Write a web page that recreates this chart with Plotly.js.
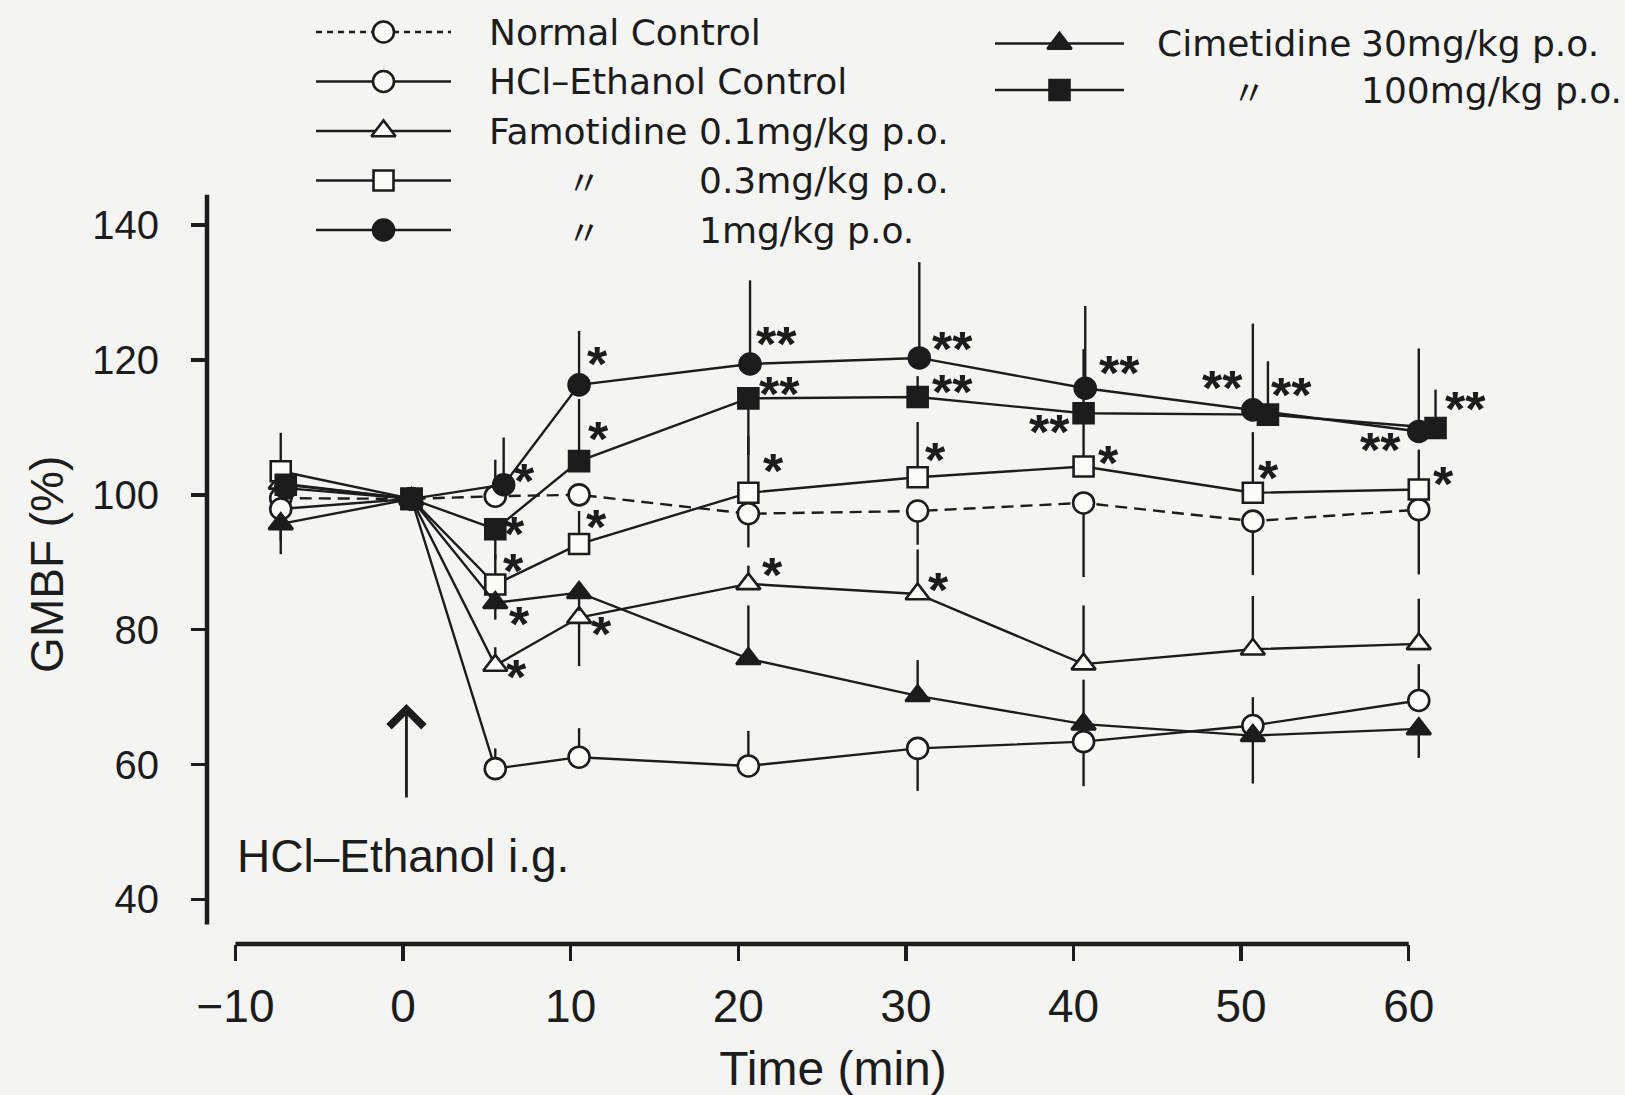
<!DOCTYPE html>
<html>
<head>
<meta charset="utf-8">
<script src="https://cdn.plot.ly/plotly-3.0.1.min.js"></script>
<style>
  html, body { margin: 0; padding: 0; background: #f4f4f2; }
  #chart { width: 1625px; height: 1095px; }
</style>
</head>
<body>
<div id="chart"></div>
<script>
// ---------------- data ----------------
const time        = [-7.3, 0.5, 5.5, 10.5, 20.6, 30.7, 40.6, 50.7, 60.6];
const timeFamo1   = [-7.0, 0.5, 6.0, 10.5, 20.7, 30.8, 40.7, 50.7, 60.6];
const timeCime100 = [-7.0, 0.5, 5.5, 10.5, 20.6, 30.7, 40.6, 51.6, 61.6];

const normalVal  = [99.5, 99.4, 99.8, 100.0, 97.2, 97.6, 98.8, 96.1, 97.8];
const normalUp   = [0, 0, 5.4, 1.5, 0, 0, 0, 0, 0];
const normalDown = [0, 0, 0, 1.5, 5, 5, 11, 8, 9.6];

const hclVal  = [97.9, 99.4, 59.4, 61.1, 59.8, 62.4, 63.4, 65.8, 69.5];
const hclUp   = [0, 0, 3, 4.3, 5.2, 0, 0, 4.2, 5.4];
const hclDown = [4.7, 0, 0, 0, 0, 6.3, 6.6, 0, 0];

const famo01Val  = [101.7, 99.4, 74.7, 81.8, 86.8, 85.3, 74.9, 77.1, 77.9];
const famo01Up   = [0, 0, 2.7, 0, 2.7, 6.6, 8.7, 7.9, 6.7];
const famo01Down = [0, 0, 0, 7.2, 0, 0, 0, 0, 0];
const famo01Sig  = ['', '', '*', '*', '*', '*', '', '', ''];

const famo03Val  = [103.5, 99.4, 86.7, 92.7, 100.3, 102.6, 104.2, 100.3, 100.8];
const famo03Up   = [5.7, 0, 4.5, 4.9, 8.4, 8.2, 6.6, 9, 5.9];
const famo03Down = [0, 0, 0, 0, 0, 0, 0, 0, 0];
const famo03Sig  = ['', '', '*', '*', '*', '*', '*', '*', '*'];

const famo1Val  = [101.0, 99.4, 101.5, 116.3, 119.4, 120.3, 115.8, 112.6, 109.4];
const famo1Up   = [0, 0, 7, 8, 12.4, 14.2, 12.2, 12.8, 12.3];
const famo1Down = [0, 0, 0, 0, 0, 0, 0, 0, 0];
const famo1Sig  = ['', '', '*', '*', '**', '**', '**', '**', '**'];

const cime30Val  = [95.7, 99.4, 84.0, 85.5, 75.7, 70.2, 66.0, 64.3, 65.3];
const cime30Up   = [0, 0, 0, 0, 7.9, 5.3, 6.6, 0, 0];
const cime30Down = [4.5, 0, 2.5, 2.7, 0, 0, 0, 7.1, 4.3];
const cime30Sig  = ['', '', '*', '', '', '', '', '', ''];

const cime100Val  = [101.5, 99.4, 94.9, 105.0, 114.3, 114.5, 112.1, 111.9, 109.9];
const cime100Up   = [0, 0, 0, 9.2, 0, 3.1, 9.5, 7.9, 5.7];
const cime100Down = [0, 0, 4.5, 0, 8.4, 0, 0, 0, 0];
const cime100Sig  = ['', '', '*', '*', '**', '**', '**', '**', '**'];

const legendDrug = ['Normal Control', 'HCl–Ethanol Control', 'Famotidine', '〃', '〃', 'Cimetidine', '〃'];
const legendDose = ['', '', '0.1mg/kg p.o.', '0.3mg/kg p.o.', '1mg/kg p.o.', '30mg/kg p.o.', '100mg/kg p.o.'];

const xTicks = [-10, 0, 10, 20, 30, 40, 50, 60];
const yTicks = [40, 60, 80, 100, 120, 140];

const xTitle = 'Time (min)';
const yTitle = 'GMBF (%)';
const dosingNote = 'HCl–Ethanol i.g.';

// ---------------- styles / layout ----------------
const INK = '#1c1c1c';
const BG = '#f4f4f2';
const HOLLOW = '#fbfbf9';
const W = 1625, H = 1095;

const styles = [
  { key: 'normal',  x: time,        y: normalVal,  up: normalUp,  down: normalDown,  sig: null,       symbol: 'circle',      filled: false, size: 21, dash: '12px,7px', col: 0, row: 0 },
  { key: 'hcl',     x: time,        y: hclVal,     up: hclUp,     down: hclDown,     sig: null,       symbol: 'circle',      filled: false, size: 21, dash: 'solid',    col: 0, row: 1 },
  { key: 'famo01',  x: time,        y: famo01Val,  up: famo01Up,  down: famo01Down,  sig: famo01Sig,  symbol: 'triangle-up', filled: false, size: 21, dash: 'solid',    col: 0, row: 2 },
  { key: 'famo03',  x: time,        y: famo03Val,  up: famo03Up,  down: famo03Down,  sig: famo03Sig,  symbol: 'square',      filled: false, size: 20, dash: 'solid',    col: 0, row: 3 },
  { key: 'famo1',   x: timeFamo1,   y: famo1Val,   up: famo1Up,   down: famo1Down,   sig: famo1Sig,   symbol: 'circle',      filled: true,  size: 21, dash: 'solid',    col: 0, row: 4 },
  { key: 'cime30',  x: time,        y: cime30Val,  up: cime30Up,  down: cime30Down,  sig: cime30Sig,  symbol: 'triangle-up', filled: true,  size: 21, dash: 'solid',    col: 1, row: 0 },
  { key: 'cime100', x: timeCime100, y: cime100Val, up: cime100Up, down: cime100Down, sig: cime100Sig, symbol: 'square',      filled: true,  size: 20, dash: 'solid',    col: 1, row: 1 }
];

// pixel offsets of the significance marks from their point (dx right, dy down)
const SIG_OFFSET = {
  famo01:  {2: [21, 6], 3: [22, 11], 4: [24, -14], 5: [21, -9]},
  famo03:  {2: [18, -19], 3: [17, -22], 4: [25, -27], 5: [18, -22], 6: [25, -9], 7: [16, -20], 8: [25, -11]},
  famo1:   {2: [21, -9], 3: [18, -26], 4: [26, -25], 5: [33, -14], 6: [34, -20], 7: [-30, -27], 8: [-38, 13]},
  cime30:  {2: [24, 16]},
  cime100: {2: [19, 0], 3: [19, -27], 4: [31, -10], 5: [35, -10], 6: [-34, 14], 7: [24, -25], 8: [30, -24]}
};

// legend geometry in page pixels
const LEG = [
  { x0: 316, x1: 451, textX: 487, dittoX: 584, doseX: 697, y0: 32, dy: 49.5 },
  { x0: 995, x1: 1124, textX: 1155, dittoX: 1249, doseX: 1359, y0: 43.5, dy: 46.5 }
];

// main plot area in page pixels
const PLOT = { left: 207, right: 1459, top: 184.6, bottom: 944 };
const X_RANGE = [-11.7, 63];
const Y_RANGE = [33.4, 146];

const TICK_FONT = 'Liberation Sans, Arial, sans-serif';
const LEG_FONT = 'DejaVu Sans, Noto Sans CJK JP, sans-serif';
const DITTO_FONT = 'Noto Sans CJK JP, DejaVu Sans, sans-serif';
const STAR_SIZE = 52;

function markerFor(s) {
  return {
    symbol: s.symbol,
    size: s.size,
    color: s.filled ? INK : HOLLOW,
    line: { color: INK, width: 2.6 }
  };
}

const traces = [];
styles.forEach(s => {
  traces.push({
    type: 'scatter', mode: 'lines+markers',
    x: s.x, y: s.y,
    xaxis: 'x', yaxis: 'y',
    line: { color: INK, width: 2.4, dash: s.dash },
    marker: markerFor(s),
    error_y: { type: 'data', symmetric: false, array: s.up, arrayminus: s.down, width: 0, thickness: 2.4, color: INK },
    showlegend: false, hoverinfo: 'skip', cliponaxis: false
  });
});

// legend keys drawn on an overlay axis in page-pixel units
styles.forEach(s => {
  const c = LEG[s.col];
  const yy = c.y0 + s.row * c.dy;
  const xm = (c.x0 + c.x1) / 2;
  traces.push({
    type: 'scatter', mode: 'lines',
    x: [c.x0, c.x1], y: [yy, yy],
    xaxis: 'x2', yaxis: 'y2',
    line: { color: INK, width: 2.4, dash: s.dash === 'solid' ? 'solid' : '6px,5px' },
    showlegend: false, hoverinfo: 'skip', cliponaxis: false
  });
  traces.push({
    type: 'scatter', mode: 'markers',
    x: [xm], y: [yy],
    xaxis: 'x2', yaxis: 'y2',
    marker: markerFor(s),
    showlegend: false, hoverinfo: 'skip', cliponaxis: false
  });
});

const annotations = [];

// significance marks (compact text box so neighbouring marks do not collide)
styles.forEach(s => {
  if (!s.sig) return;
  s.sig.forEach((txt, i) => {
    if (!txt) return;
    const off = (SIG_OFFSET[s.key] || {})[i] || [20, -10];
    annotations.push({
      x: s.x[i], y: s.y[i], xref: 'x', yref: 'y',
      text: txt, showarrow: false,
      xanchor: 'center', yanchor: 'middle',
      height: 34, valign: 'middle',
      xshift: off[0], yshift: -off[1] - 0.1 * STAR_SIZE,
      font: { family: TICK_FONT, size: STAR_SIZE, color: INK, weight: 'bold' }
    });
  });
});

// legend labels
styles.forEach((s, idx) => {
  const c = LEG[s.col];
  const yy = c.y0 + s.row * c.dy;
  const drug = legendDrug[idx];
  const dose = legendDose[idx];
  const isDitto = drug === '〃';
  annotations.push({
    x: isDitto ? c.dittoX : c.textX, y: yy, xref: 'x2', yref: 'y2',
    text: drug, showarrow: false,
    xanchor: isDitto ? 'center' : 'left', yanchor: 'middle',
    font: { family: isDitto ? DITTO_FONT : LEG_FONT, size: isDitto ? 34 : 36, color: INK }
  });
  if (dose) {
    annotations.push({
      x: c.doseX, y: yy, xref: 'x2', yref: 'y2',
      text: dose, showarrow: false,
      xanchor: 'left', yanchor: 'middle',
      font: { family: LEG_FONT, size: 36, color: INK }
    });
  }
});

// dosing note and arrow
annotations.push({
  x: -10, y: 46.4, xref: 'x', yref: 'y',
  text: dosingNote, showarrow: false, xanchor: 'left', yanchor: 'middle',
  font: { family: TICK_FONT, size: 46, color: INK }
});
annotations.push({
  x: 0.2, y: 69, xref: 'x', yref: 'y',
  text: '', showarrow: true, ax: 0, ay: 95,
  arrowhead: 4, arrowsize: 2.4, arrowwidth: 2.8, arrowcolor: INK
});

const shapes = [
  // x axis line from first to last tick
  { type: 'line', xref: 'x', x0: xTicks[0], x1: xTicks[xTicks.length - 1],
    yref: 'y domain', y0: 0, y1: 0, line: { color: INK, width: 4.5 } },
  // y axis line
  { type: 'line', xref: 'x domain', x0: 0, x1: 0, yref: 'y', y0: 36.3, y1: 144.5,
    line: { color: INK, width: 4.5 } }
];

const layout = {
  width: W, height: H,
  margin: { l: 0, r: 0, t: 0, b: 0 },
  paper_bgcolor: BG, plot_bgcolor: 'rgba(0,0,0,0)',
  showlegend: false,
  xaxis: {
    domain: [PLOT.left / W, PLOT.right / W], anchor: 'y',
    range: X_RANGE, tickvals: xTicks,
    showline: false, zeroline: false, showgrid: false,
    ticks: 'outside', ticklen: 16, tickwidth: 3.5, tickcolor: INK,
    ticklabelstandoff: 6,
    tickfont: { family: TICK_FONT, size: 46, color: INK },
    title: { text: xTitle, font: { family: TICK_FONT, size: 48, color: INK }, standoff: 22 }
  },
  yaxis: {
    domain: [(H - PLOT.bottom) / H, (H - PLOT.top) / H], anchor: 'x',
    range: Y_RANGE, tickvals: yTicks,
    showline: false, zeroline: false, showgrid: false,
    ticks: 'outside', ticklen: 15, tickwidth: 3.5, tickcolor: INK,
    ticklabelstandoff: 24,
    tickfont: { family: TICK_FONT, size: 40, color: INK },
    title: { text: yTitle, font: { family: TICK_FONT, size: 46, color: INK }, standoff: 14 }
  },
  xaxis2: { domain: [0, 1], range: [0, W], anchor: 'y2', visible: false, fixedrange: true },
  yaxis2: { domain: [0, 1], range: [H, 0], anchor: 'x2', visible: false, fixedrange: true },
  annotations: annotations,
  shapes: shapes
};

Plotly.newPlot('chart', traces, layout, { staticPlot: true, displayModeBar: false });
</script>
</body>
</html>
